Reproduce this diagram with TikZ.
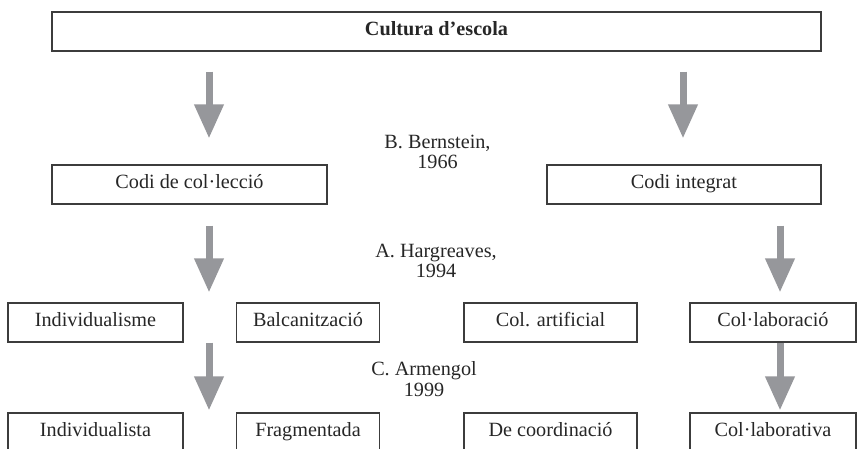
\documentclass[tikz,border=0pt]{standalone}
\usepackage{fontspec}
\setmainfont{Liberation Serif}
\usetikzlibrary{arrows.meta}
\definecolor{arrowgray}{RGB}{150,151,155}
\definecolor{linegray}{RGB}{60,60,60}

\begin{document}
\begin{tikzpicture}[x=0.02cm,y=-0.02cm,
  box/.style={draw=linegray,line width=0.7pt,minimum height=0.78cm,inner sep=0pt,
    text height=0.68em,text depth=0.27em,
    font=\fontsize{11.5}{11.5}\selectfont,text=black!85},
  lbl/.style={align=center,font=\fontsize{11.5}{11.5}\selectfont,text=black!85},
  flow/.style={draw=arrowgray,line width=0.14cm,-{Triangle[width=0.56cm,length=0.68cm]}}]
\useasboundingbox (0,0) rectangle (861,449);

% columns of the arrows
\coordinate (lx) at (209,0);
\coordinate (rx) at (683,0);
\coordinate (rrx) at (780,0);

% boxes
\node[box,minimum width=15.38cm] (cultura) at (436.5,31.5) {\textbf{Cultura d’escola}};
\node[box,minimum width=5.5cm] (colleccio) at (189.5,184.5) {Codi de col·lecció};
\node[box,minimum width=5.48cm] (integrat) at (684,184.5) {Codi integrat};

\node[box,minimum width=3.5cm] (individualisme) at (95.5,322.5) {Individualisme};
\node[box,minimum width=2.86cm] (balcanitzacio) at (308,322.5) {Balcanització};
\node[box,minimum width=3.46cm] (artificial) at (550.5,322.5) {Col. artificial};
\node[box,minimum width=3.32cm] (colaboracio) at (773,322.5) {Col·laboració};

\node[box,minimum width=3.5cm] (individualista) at (95.5,432.5) {Individualista};
\node[box,minimum width=2.86cm] (fragmentada) at (308,432.5) {Fragmentada};
\node[box,minimum width=3.46cm] (coordinacio) at (550.5,432.5) {De coordinació};
\node[box,minimum width=3.32cm] (colaborativa) at (773,432.5) {Col·laborativa};

% authors
\node[lbl] (bernstein) at (437.5,152) {B. Bernstein,\\1966};
\node[lbl] (hargreaves) at (436,261) {A. Hargreaves,\\1994};
\node[lbl] (armengol) at (424,379) {C. Armengol\\1999};

% arrows
\draw[flow,shorten <=0.4cm,shorten >=0.52cm] (cultura.south -| lx) -- (colleccio.north -| lx);
\draw[flow,shorten <=0.4cm,shorten >=0.52cm] (cultura.south -| rx) -- (integrat.north -| rx);
\draw[flow,shorten <=0.42cm,shorten >=0.2cm] (colleccio.south -| lx) -- (individualisme.north -| lx);
\draw[flow,shorten <=0.42cm,shorten >=0.2cm] (integrat.south -| rrx) -- (colaboracio.north -| rrx);
\draw[flow,shorten >=0.04cm] (individualisme.south -| lx) -- (individualista.north -| lx);
\draw[flow,shorten >=0.04cm] (colaboracio.south -| rrx) -- (colaborativa.north -| rrx);

\end{tikzpicture}
\end{document}
